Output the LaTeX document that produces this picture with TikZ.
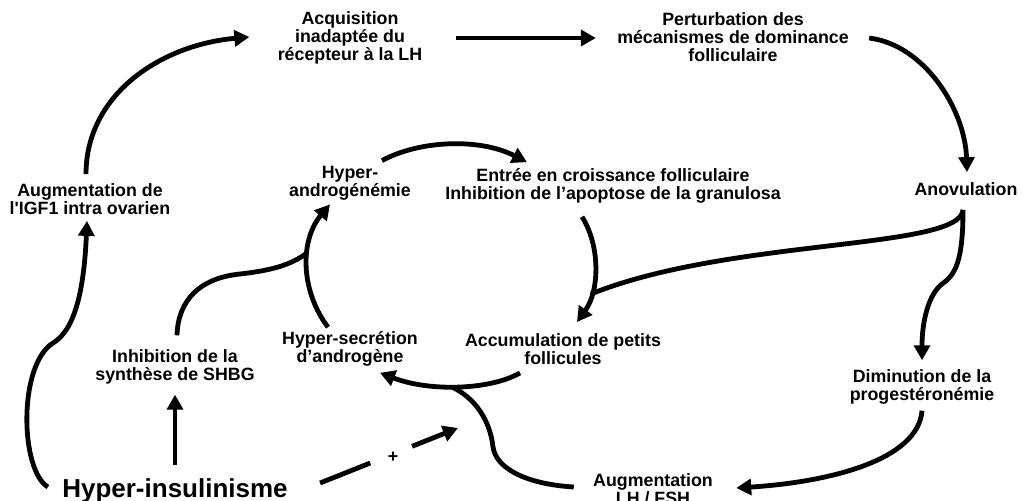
\documentclass[tikz,border=0pt]{standalone}
\usepackage{fontspec}
\setmainfont{Liberation Sans}
\usetikzlibrary{arrows.meta}

\begin{document}
\begin{tikzpicture}[
    x=1pt, y=-1pt,
    ->,
    >={Triangle[length=15pt,width=16pt]},
    line width=4.8pt
]

\tikzstyle{stage}=[
    inner sep=0pt,
    align=center,
    font=\bfseries\fontsize{17.8}{18}\selectfont
]

\useasboundingbox[fill=white] (0,0) rectangle (1024,500);

% outer ring
\node[stage] (acq) at (350,38) {Acquisition\\inadaptée du\\récepteur à la LH};
\node[stage] (pert) at (733,37) {Perturbation des\\mécanismes de dominance\\folliculaire};
\node[stage] (igf) at (90,199) {Augmentation de\\l\textquotesingle IGF1 intra ovarien};
\node[stage] (anov) at (966,189) {Anovulation};
\node[stage] (dim) at (922,387) {Diminution de la\\progestéronémie};
\node[stage] (lhfsh) at (653,489) {Augmentation\\LH / FSH};
\node[stage] (shbg) at (175,367) {Inhibition de la\\synthèse de SHBG};
\node[stage, font=\bfseries\fontsize{26}{30}\selectfont] (ins) at (175,491) {Hyper-insulinisme};

% inner loop
\node[stage] (hand) at (350,183) {Hyper-\\androgénémie};
\node[stage] (entree) at (613,186) {Entrée en croissance folliculaire\\Inhibition de l’apoptose de la granulosa};
\node[stage] (accum) at (563,349) {Accumulation de petits\\follicules};
\node[stage] (hsec) at (350,349) {Hyper-secrétion\\d’androgène};

\node[stage] (plus) at (393,457) {+};

\coordinate (joinA) at (591,294);
\coordinate (joinB) at (307,253);
\coordinate (joinC) at (452,387);
\coordinate (plusTip) at (458,428);

\draw ([shift={(-4,-7)}]igf.north) .. controls (86,95) and (160,45) .. ([shift={(-26,-1)}]acq.west);
\draw ([shift={(31,0)}]acq.east) -- ([shift={(-19,1)}]pert.west);
\draw ([shift={(18,1)}]pert.east) .. controls (925,45) and (965,110) .. ([shift={(1,-8)}]anov.north);
\draw[-] ([shift={(-3,12)}]anov.south) .. controls (960,250) and (730,238) .. (joinA);
\draw ([shift={(-3,12)}]anov.south) .. controls (963,262) and (955,275) .. (942,284)
    .. controls (929,294) and (922,320) .. ([shift={(0,-7)}]dim.north);
\draw ([shift={(0,4)}]dim.south) .. controls (918,460) and (830,482) .. ([shift={(21,-1)}]lhfsh.east);
\draw[-] ([shift={(-17,-2)}]lhfsh.west) .. controls (525,484) and (496,468) .. (493,447)
    .. controls (490,420) and (475,398) .. (joinC);

\draw ([shift={(32,-3)}]hand.north) .. controls (420,140) and (480,138) .. ([shift={(-86,-4)}]entree.north);
\draw ([shift={(-31,11)}]entree.south) .. controls (600,245) and (600,290) .. ([shift={(14,-9)}]accum.north);
\draw ([shift={(-43,6)}]accum.south) .. controls (490,390) and (430,392) .. ([shift={(30,4)}]hsec.south);
\draw ([shift={(-22,-2)}]hsec.north) .. controls (300,290) and (300,240) .. ([shift={(-20,2)}]hand.south);

\draw[-] ([shift={(2,-12)}]shbg.north) .. controls (178,300) and (200,278) .. (240,274)
    .. controls (275,270) and (292,264) .. (joinB);
\draw ([shift={(0,-11)}]ins.north) -- ([shift={(0,8)}]shbg.south);
\draw ([shift={(-12,-4)}]ins.west) .. controls (20,470) and (18,365) .. (53,343)
    .. controls (75,330) and (84,290) .. ([shift={(-3,4)}]igf.south);
\draw[dash pattern=on 54pt off 45pt] ([shift={(30,-8)}]ins.east) -- (plusTip);

\end{tikzpicture}
\end{document}
